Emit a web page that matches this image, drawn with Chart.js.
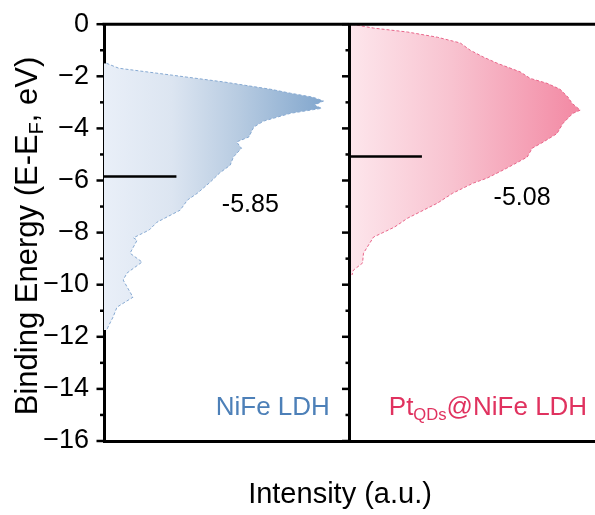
<!DOCTYPE html>
<html>
<head>
<meta charset="utf-8">
<script src="https://cdn.jsdelivr.net/npm/chart.js@4.4.0/dist/chart.umd.min.js"></script>
<style>
  html, body { margin: 0; padding: 0; background: #fff; overflow: hidden; }
  #wrap { width: 595px; height: 515px; }
</style>
</head>
<body>
<div id="wrap"><canvas id="dos"></canvas></div>
<script>
/* ===== Data ===== */
const nifeEnergy = [-1.5, -1.69, -1.96, -2.22, -2.5, -2.65, -2.8, -2.95, -3.1, -3.23, -3.42, -3.72, -3.95, -4.33, -4.52, -4.76, -5.1, -5.41, -5.72, -6.06, -6.49, -6.75, -7.14, -7.6, -7.9, -8.2, -8.29, -8.79, -9.13, -9.55, -9.82, -10.48, -10.86, -11.24, -11.63, -11.74];
const nifeIntensity = [1, 6, 28, 49, 68, 76, 85, 89.4, 85.7, 88.6, 76, 65, 61, 59, 54, 56, 52.7, 51.4, 47, 43.3, 38, 34, 31, 21.6, 18.4, 12, 13.5, 10.6, 15.5, 9.4, 7.8, 11.8, 5.3, 3.7, 1.6, 1.2];

const ptEnergy = [0, -0.15, -0.3, -0.5, -0.72, -1.0, -1.26, -1.5, -1.83, -2.08, -2.27, -2.5, -2.8, -3.04, -3.3, -3.42, -3.8, -4.2, -4.52, -4.76, -5.1, -5.53, -5.91, -6.1, -6.49, -6.87, -7.45, -7.79, -8.17, -8.79, -9.17, -9.44, -9.63];
const ptIntensity = [1, 9.8, 23.6, 35.8, 45.1, 49.2, 54.5, 60.2, 69.5, 73.6, 80.5, 85.8, 89, 90.7, 94, 91, 87, 84.5, 79, 74.4, 72.4, 64, 56, 50.4, 42, 35.8, 23.6, 18.3, 9.8, 5.7, 5.3, 1.6, 1];

// d-band centers
const bandCenters = [-5.85, -5.08];
const bandCenterText = ['-5.85', '-5.08'];
const centerBarLength = 29.5;

const FONT = "'Liberation Sans', Arial, Helvetica, sans-serif";

const toPoints = (ys, xs) => ys.map((y, i) => ({ x: xs[i], y }));

function gradientFor(axisId, stops) {
    return (c) => {
        const chart = c.chart;
        if (!chart.chartArea) return stops[0][1];
        const sc = chart.scales[axisId];
        const g = chart.ctx.createLinearGradient(sc.getPixelForValue(0), 0, sc.getPixelForValue(92), 0);
        stops.forEach(s => g.addColorStop(s[0], s[1]));
        return g;
    };
}

const BLUE_STOPS = [[0, '#e9eff8'], [0.3, '#dce5f1'], [0.6, '#b7cbe1'], [1, '#7ea4cc']];
const PINK_STOPS = [[0, '#fde6ec'], [0.45, '#f8c3d0'], [1, '#f38ba5']];

/* ===== Rich text helper (subscripts) ===== */
function drawRich(ctx, parts, x, y, size, align) {
    const subSize = size * 0.64;
    let w = 0;
    parts.forEach(p => {
        ctx.font = (p.sub ? subSize : size) + 'px ' + FONT;
        p.w = ctx.measureText(p.t).width;
        w += p.w;
    });
    let cx = align === 'center' ? x - w / 2 : align === 'right' ? x - w : x;
    ctx.textAlign = 'left';
    ctx.textBaseline = 'middle';
    parts.forEach(p => {
        ctx.font = (p.sub ? subSize : size) + 'px ' + FONT;
        ctx.fillText(p.t, cx, y + (p.sub ? size * 0.3 : 0));
        cx += p.w;
    });
}

/* ===== Frame, minor ticks, markers, labels ===== */
const framePlugin = {
    id: 'frame',
    afterDraw(chart) {
        const { ctx, chartArea: a, scales: { y, x, x2 } } = chart;
        ctx.save();
        ctx.strokeStyle = '#000';
        ctx.lineWidth = 3;
        ctx.beginPath();
        ctx.moveTo(a.left - 1.5, a.top);
        ctx.lineTo(chart.width, a.top);
        ctx.stroke();
        ctx.beginPath();
        ctx.moveTo(x2.left, a.top);
        ctx.lineTo(x2.left, a.bottom + 1.5);
        ctx.stroke();

        // major / minor ticks on the axis and the divider
        ctx.lineWidth = 2.5;
        for (let v = -16; v <= 0; v++) {
            const py = y.getPixelForValue(v);
            const len = v % 2 === 0 ? 7.5 : 4;
            [x.left, x2.left].forEach(px => {
                ctx.beginPath();
                ctx.moveTo(px - len, py);
                ctx.lineTo(px, py);
                ctx.stroke();
            });
        }

        // d-band center bars
        ctx.lineWidth = 2.5;
        [[x, bandCenters[0]], [x2, bandCenters[1]]].forEach(([sc, e]) => {
            const py = y.getPixelForValue(e);
            ctx.beginPath();
            ctx.moveTo(sc.getPixelForValue(0), py);
            ctx.lineTo(sc.getPixelForValue(centerBarLength), py);
            ctx.stroke();
        });

        ctx.fillStyle = '#000';
        ctx.font = '25px ' + FONT;
        ctx.textAlign = 'center';
        ctx.textBaseline = 'middle';
        ctx.fillText(bandCenterText[0], x.getPixelForValue(59.6), y.getPixelForValue(-6.95));
        ctx.fillText(bandCenterText[1], x2.getPixelForValue(70.3), y.getPixelForValue(-6.68));

        // sample names
        ctx.fillStyle = '#4d80b8';
        drawRich(ctx, [{ t: 'NiFe LDH' }], x.getPixelForValue(92), y.getPixelForValue(-14.73), 26, 'right');
        ctx.fillStyle = '#e0325f';
        drawRich(ctx, [{ t: 'Pt' }, { t: 'QDs', sub: true }, { t: '@NiFe LDH' }], x2.getPixelForValue(96.8), y.getPixelForValue(-14.73), 26, 'right');

        // axis titles
        ctx.fillStyle = '#000';
        drawRich(ctx, [{ t: 'Intensity (a.u.)' }], 340, 495, 29, 'center');
        ctx.translate(28, 236);
        ctx.rotate(-Math.PI / 2);
        drawRich(ctx, [{ t: 'Binding Energy (E-E' }, { t: 'F', sub: true }, { t: ', eV)' }], 0, 0, 31, 'center');
        ctx.restore();
    }
};

const bottomAxis = {
    type: 'linear', position: 'bottom', stack: 'panels', stackWeight: 1,
    min: 0, max: 100,
    ticks: { display: false },
    grid: { display: true, drawOnChartArea: false, drawTicks: false },
    border: { display: true, color: '#000', width: 3 },
    afterFit: s => { s.height = 74; }
};

new Chart(document.getElementById('dos'), {
    type: 'line',
    data: {
        datasets: [
            {
                label: 'NiFe LDH', xAxisID: 'x',
                data: toPoints(nifeEnergy, nifeIntensity),
                borderColor: '#86a9d2', borderWidth: 1, borderDash: [3, 2],
                backgroundColor: gradientFor('x', BLUE_STOPS),
                fill: 'origin', pointRadius: 0, tension: 0
            },
            {
                label: 'PtQDs@NiFe LDH', xAxisID: 'x2',
                data: toPoints(ptEnergy, ptIntensity),
                borderColor: '#e8668a', borderWidth: 1, borderDash: [3, 2],
                backgroundColor: gradientFor('x2', PINK_STOPS),
                fill: 'origin', pointRadius: 0, tension: 0
            }
        ]
    },
    options: {
        indexAxis: 'y',
        responsive: true,
        maintainAspectRatio: false,
        animation: false,
        layout: { padding: { top: 24, right: 0, left: 0, bottom: 0 } },
        plugins: { legend: { display: false }, tooltip: { enabled: false } },
        scales: {
            x: { ...bottomAxis },
            x2: { ...bottomAxis },
            y: {
                type: 'linear', position: 'left',
                min: -16, max: 0,
                ticks: {
                    stepSize: 2, color: '#000', padding: 8,
                    font: { family: FONT, size: 27 },
                    callback: v => v < 0 ? '\u2212' + Math.abs(v) : String(v)
                },
                grid: { display: true, drawOnChartArea: false, drawTicks: true, tickLength: 7, tickColor: 'rgba(0,0,0,0)' },
                border: { display: true, color: '#000', width: 3 },
                afterFit: s => { s.width = 104; }
            }
        }
    },
    plugins: [framePlugin]
});
</script>
</body>
</html>
